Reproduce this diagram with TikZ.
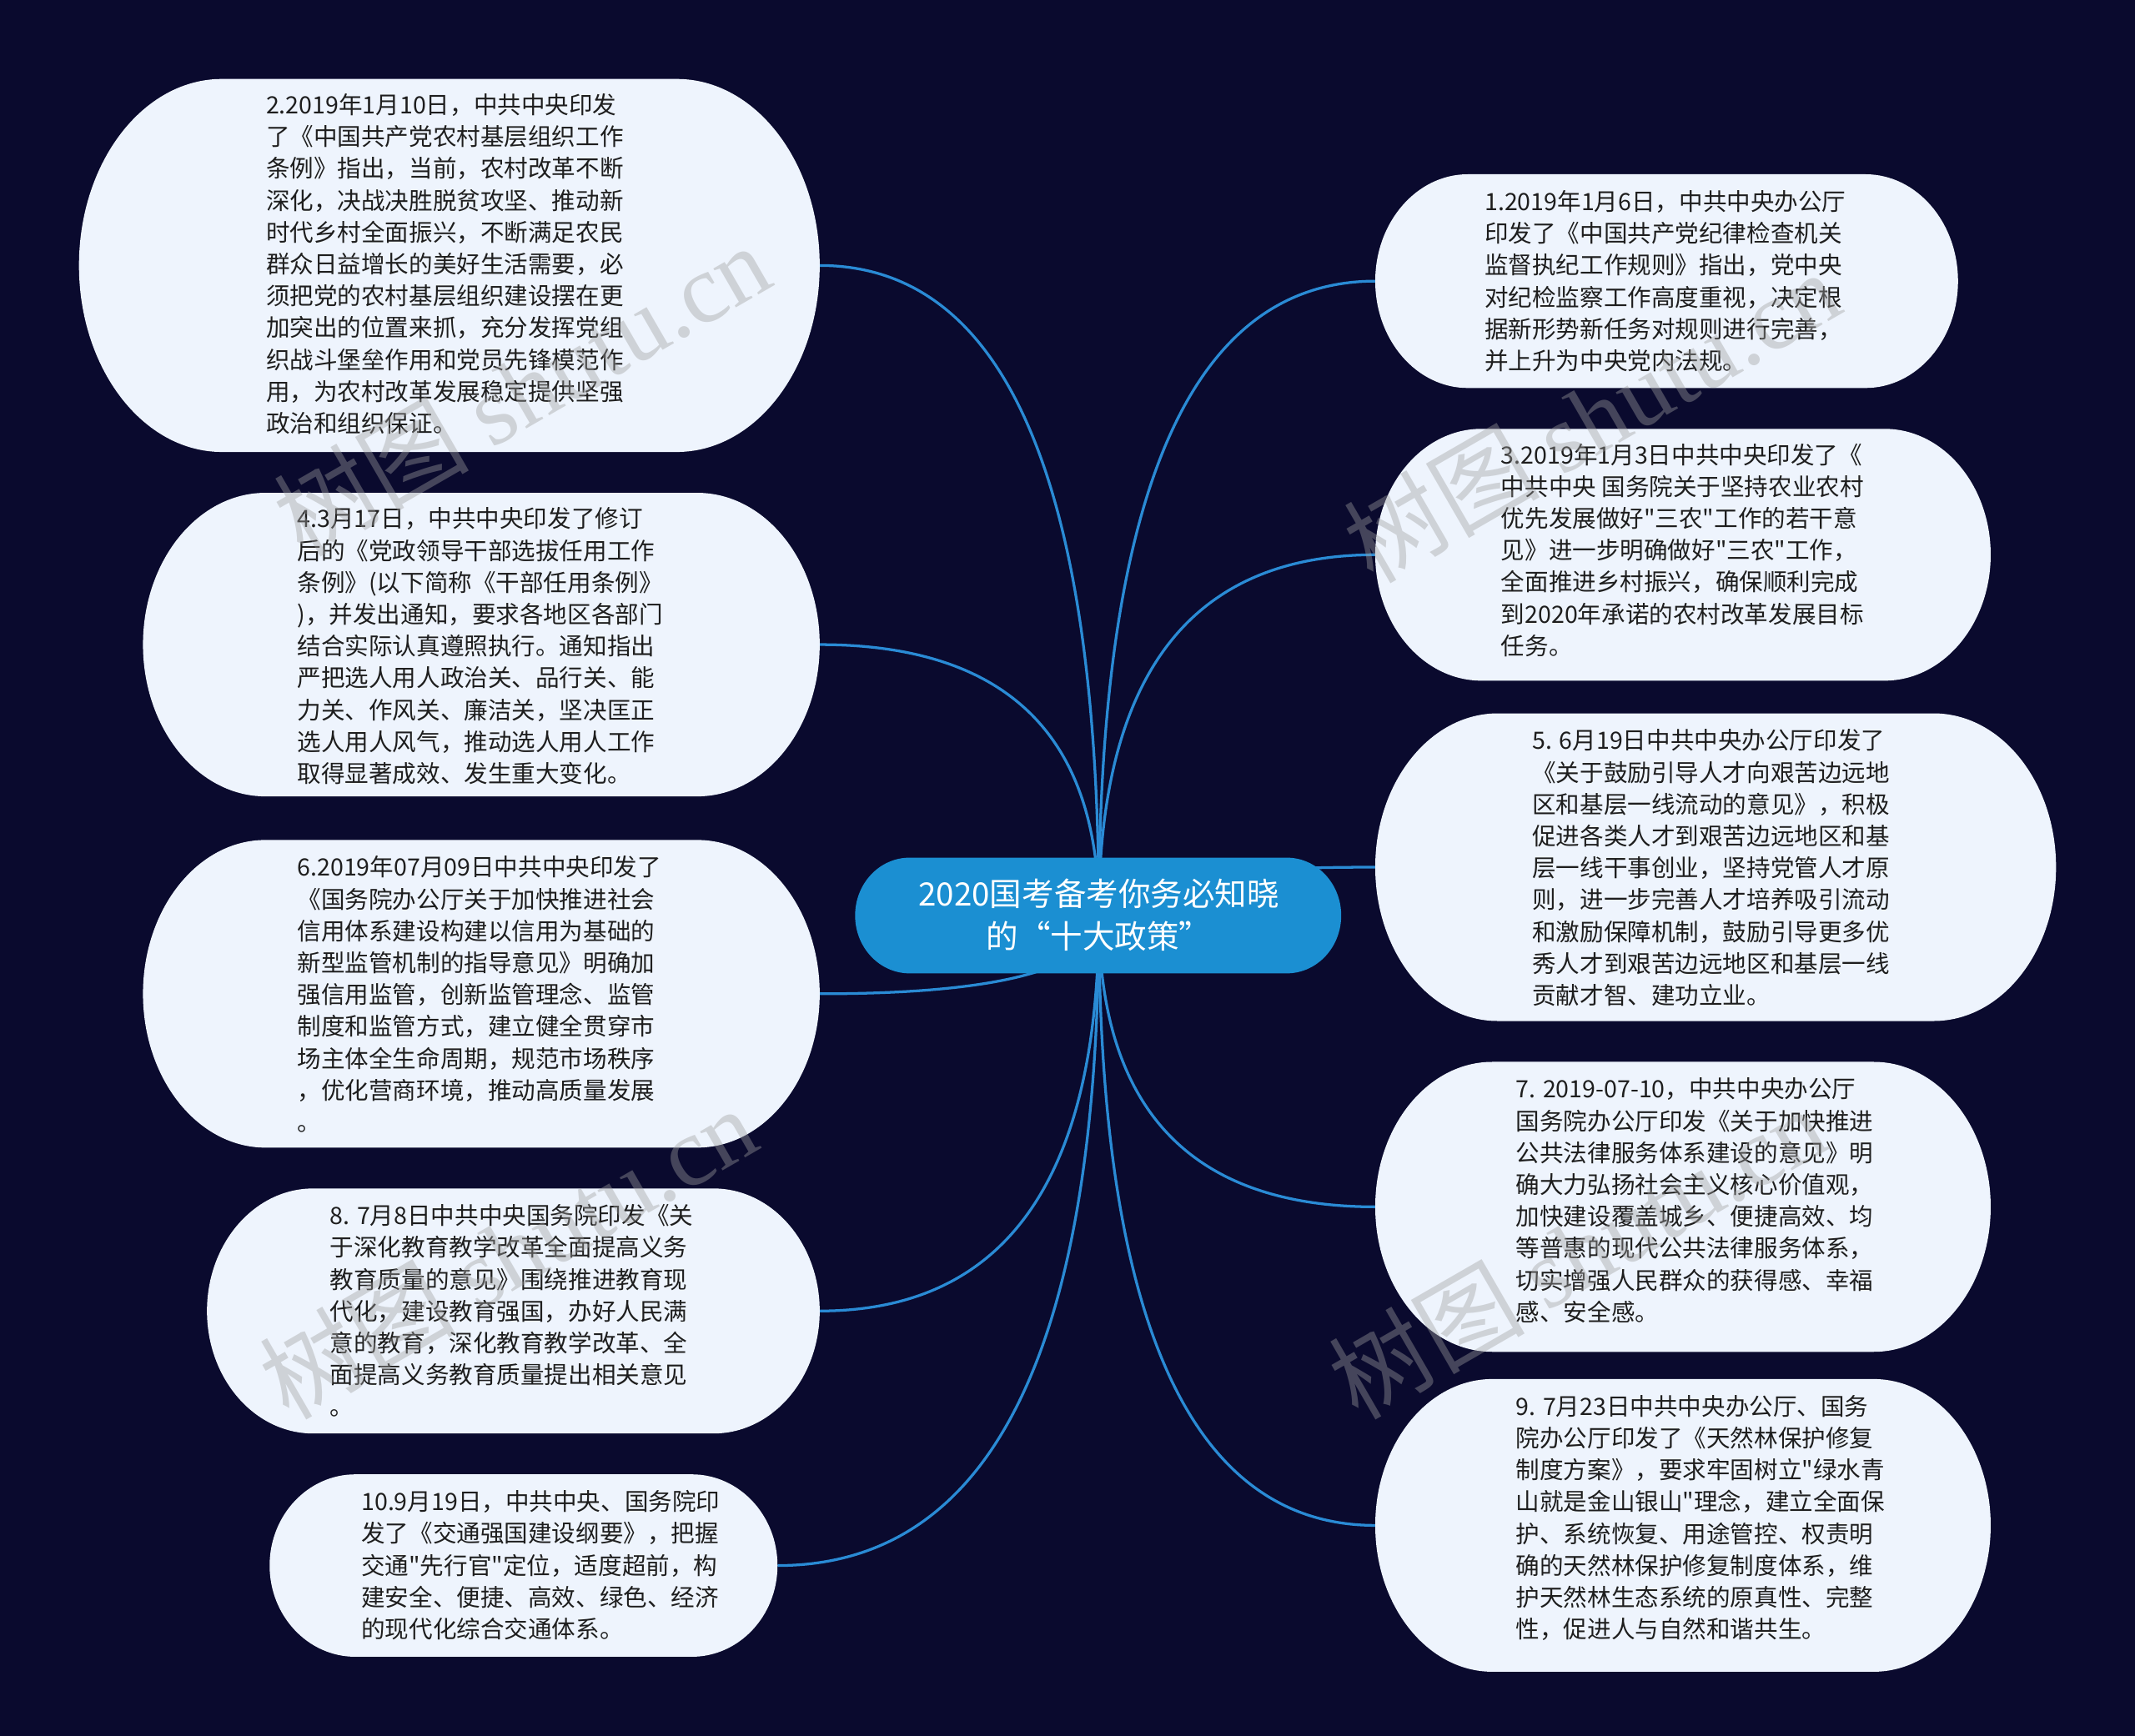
\documentclass[tikz,border=0pt]{standalone}
\usepackage{fontspec}
\setmainfont{Noto Sans CJK SC}[Ligatures=TeXOff]
\newfontfamily\wmlat{Liberation Serif}
\usetikzlibrary{calc}
\definecolor{bgc}{HTML}{0A0A2E}
\definecolor{bubc}{HTML}{EEF4FD}
\definecolor{ctrc}{HTML}{1B8FD2}
\definecolor{linkc}{HTML}{2A8BD5}
\definecolor{txtc}{HTML}{1E1E1E}
\pgfdeclarelayer{backl}
\pgfdeclarelayer{linkl}
\pgfsetlayers{backl,linkl,main}
\newcommand\mybubble[6]{%
  \pgfmathsetmacro\bRy{(#5-#3)/4}%
  \pgfmathsetmacro\bRx{#6/2}%
  \fill[#1] (#2+#6,#3) -- (#4-#6,#3)
    arc[start angle=90,end angle=-90,x radius=\bRx pt,y radius=\bRy pt]
    -- (#2+#6,#5)
    arc[start angle=270,end angle=90,x radius=\bRx pt,y radius=\bRy pt] -- cycle;}
\newcommand\mylink[1]{%
  \coordinate (k#1) at (ctr.center|-#1);
  \draw[link] (ctr.center) .. controls ($(ctr.center)!2/3!(k#1)$) and ($(#1)!2/3!(k#1)$) .. (#1);}
\tikzset{
  bubfill/.style={fill=bubc},
  ctrfill/.style={fill=ctrc},
  link/.style={draw=linkc, line width=1pt},
  txt/.style={anchor=base west, inner sep=0pt, align=left, text=txtc,
    font=\fontsize{8.75pt}{11.7pt}\selectfont},
  ctrtxt/.style={inner sep=0pt, align=center, text=white,
    font=\fontsize{11.8pt}{15.5pt}\selectfont},
  wm/.style={anchor=base west, rotate=30, inner sep=0pt, text=gray!75,
    text opacity=0.4, font=\fontsize{36pt}{36pt}\selectfont}
}
\begin{document}
\begin{tikzpicture}[x=0.5pt,y=-0.5pt]
\begin{pgfonlayer}{backl}
\fill[bgc] (0,0) rectangle (1568,1275);
\end{pgfonlayer}
\useasboundingbox (0,0) rectangle (1568,1275);

% central
\mybubble{ctrfill}{628}{630}{985}{715}{40}
\node[ctrtxt] (ctr) at (807,672) {2020国考备考你务必知晓\\的“十大政策”};

% left bubbles (text anchored at the baseline of its last line)
\mybubble{bubfill}{58}{58}{602}{332}{105}
\node[txt] (t2) at (195,317.6) {2.2019年1月10日，中共中央印发\\了《中国共产党农村基层组织工作\\条例》指出，当前，农村改革不断\\深化，决战决胜脱贫攻坚、推动新\\时代乡村全面振兴，不断满足农民\\群众日益增长的美好生活需要，必\\须把党的农村基层组织建设摆在更\\加突出的位置来抓，充分发挥党组\\织战斗堡垒作用和党员先锋模范作\\用，为农村改革发展稳定提供坚强\\政治和组织保证。};
\coordinate (a2) at (602,195);

\mybubble{bubfill}{105}{362}{602}{585}{90}
\node[txt] (t4) at (218,574.8) {4.3月17日，中共中央印发了修订\\后的《党政领导干部选拔任用工作\\条例》(以下简称《干部任用条例》\\)，并发出通知，要求各地区各部门\\结合实际认真遵照执行。通知指出\\严把选人用人政治关、品行关、能\\力关、作风关、廉洁关，坚决匡正\\选人用人风气，推动选人用人工作\\取得显著成效、发生重大变化。};
\coordinate (a4) at (602,473.5);

\mybubble{bubfill}{105}{617}{602}{843}{90}
\node[txt] (t6) at (218,830.8) {6.2019年07月09日中共中央印发了\\《国务院办公厅关于加快推进社会\\信用体系建设构建以信用为基础的\\新型监管机制的指导意见》明确加\\强信用监管，创新监管理念、监管\\制度和监管方式，建立健全贯穿市\\场主体全生命周期，规范市场秩序\\，优化营商环境，推动高质量发展\\。};
\coordinate (a6) at (602,730);

\mybubble{bubfill}{152}{873}{602}{1053}{78}
\node[txt] (t8) at (242,1040) {8. 7月8日中共中央国务院印发《关\\于深化教育教学改革全面提高义务\\教育质量的意见》围绕推进教育现\\代化，建设教育强国，办好人民满\\意的教育，深化教育教学改革、全\\面提高义务教育质量提出相关意见\\。};
\coordinate (a8) at (602,963);

\mybubble{bubfill}{198}{1083}{571}{1217}{63}
\node[txt] (t10) at (265,1203.2) {10.9月19日，中共中央、国务院印\\发了《交通强国建设纲要》，把握\\交通"先行官"定位，适度超前，构\\建安全、便捷、高效、绿色、经济\\的现代化综合交通体系。};
\coordinate (a10) at (571,1150);

% right bubbles
\mybubble{bubfill}{1010}{128}{1438}{285}{68}
\node[txt] (t1) at (1090,271.6) {1.2019年1月6日，中共中央办公厅\\印发了《中国共产党纪律检查机关\\监督执纪工作规则》指出，党中央\\对纪检监察工作高度重视，决定根\\据新形势新任务对规则进行完善，\\并上升为中央党内法规。};
\coordinate (a1) at (1010,206.5);

\mybubble{bubfill}{1010}{315}{1462}{500}{78}
\node[txt] (t3) at (1102,481) {3.2019年1月3日中共中央印发了《\\中共中央 国务院关于坚持农业农村\\优先发展做好"三农"工作的若干意\\见》进一步明确做好"三农"工作，\\全面推进乡村振兴，确保顺利完成\\到2020年承诺的农村改革发展目标\\任务。};
\coordinate (a3) at (1010,407.5);

\mybubble{bubfill}{1010}{524}{1510}{750}{90}
\node[txt] (t5) at (1125,737.8) {5. 6月19日中共中央办公厅印发了\\《关于鼓励引导人才向艰苦边远地\\区和基层一线流动的意见》，积极\\促进各类人才到艰苦边远地区和基\\层一线干事创业，坚持党管人才原\\则，进一步完善人才培养吸引流动\\和激励保障机制，鼓励引导更多优\\秀人才到艰苦边远地区和基层一线\\贡献才智、建功立业。};
\coordinate (a5) at (1010,637);

\mybubble{bubfill}{1010}{780}{1462}{993}{86}
\node[txt] (t7) at (1113,970.4) {7. 2019-07-10，中共中央办公厅\\国务院办公厅印发《关于加快推进\\公共法律服务体系建设的意见》明\\确大力弘扬社会主义核心价值观，\\加快建设覆盖城乡、便捷高效、均\\等普惠的现代公共法律服务体系，\\切实增强人民群众的获得感、幸福\\感、安全感。};
\coordinate (a7) at (1010,886.5);

\mybubble{bubfill}{1010}{1013}{1462}{1228}{86}
\node[txt] (t9) at (1113,1203.4) {9. 7月23日中共中央办公厅、国务\\院办公厅印发了《天然林保护修复\\制度方案》，要求牢固树立"绿水青\\山就是金山银山"理念，建立全面保\\护、系统恢复、用途管控、权责明\\确的天然林保护修复制度体系，维\\护天然林生态系统的原真性、完整\\性，促进人与自然和谐共生。};
\coordinate (a9) at (1010,1120.5);

% connectors
\begin{pgfonlayer}{linkl}
\mylink{a1}\mylink{a2}\mylink{a3}\mylink{a4}\mylink{a5}
\mylink{a6}\mylink{a7}\mylink{a8}\mylink{a9}\mylink{a10}
\end{pgfonlayer}

% watermarks
\node[wm] (w1) at (222,410) {树图 {\wmlat shutu.cn}};
\node[wm] (w2) at (1008,430) {树图 {\wmlat shutu.cn}};
\node[wm] (w3) at (212,1044) {树图 {\wmlat shutu.cn}};
\node[wm] (w4) at (997,1044) {树图 {\wmlat shutu.cn}};
\end{tikzpicture}
\end{document}
